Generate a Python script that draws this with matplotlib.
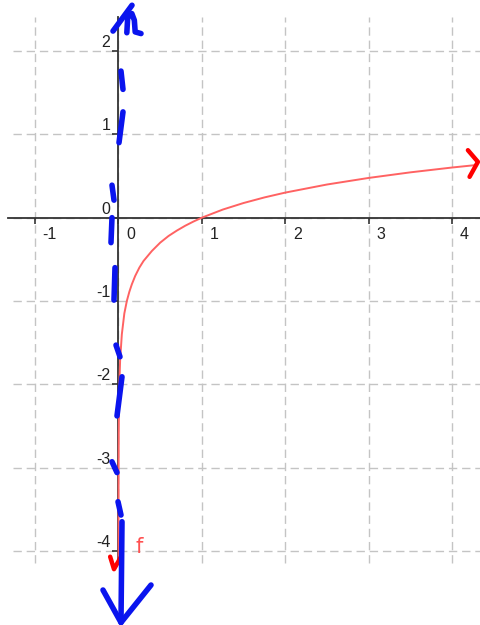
import matplotlib
matplotlib.use("Agg")
import matplotlib.pyplot as plt
from matplotlib.transforms import offset_copy

# ---- data ----
x_ticks = [-1, 0, 1, 2, 3, 4]
y_ticks = [-4, -3, -2, -1, 0, 1, 2]
x_tick_labels = ["-1", "0", "1", "2", "3", "4"]
y_tick_labels = ["-4", "-3", "-2", "-1", "0", "1", "2"]

# f(x)
curve_x = [0.00008, 0.0001, 0.0003, 0.001, 0.003, 0.01, 0.02, 0.04, 0.07, 0.1,
           0.13, 0.16, 0.2, 0.25, 0.3, 0.35, 0.4, 0.45, 0.5, 0.6, 0.7, 0.8,
           0.9, 1.0, 1.25, 1.5, 1.75, 2.0, 2.5, 3.0, 3.5, 4.0, 4.3]
curve_y = [-4.1, -4.0, -3.52, -3.0, -2.52, -2.0, -1.7, -1.4, -1.15, -1.0,
           -0.89, -0.8, -0.7, -0.6, -0.52, -0.46, -0.4, -0.35, -0.3, -0.22, -0.155, -0.097,
           -0.046, 0.0, 0.097, 0.176, 0.243, 0.301, 0.398, 0.477, 0.544, 0.602, 0.633]
curve_label = "f"
curve_label_pos = (0.2, -3.95)

# hand-drawn red arrowheads (data coords)
red_strokes = [
    ([4.19, 4.31, 4.21], [0.81, 0.67, 0.49]),
    ([-0.10, -0.054, 0.03], [-4.07, -4.22, -4.07]),
]

# hand-drawn blue asymptote annotation (data coords)
blue_strokes = [
    ([-0.066, 0.162], [2.24, 2.55]),
    ([0.10, 0.11, 0.16, 0.19, 0.20, 0.27], [2.22, 2.40, 2.45, 2.37, 2.23, 2.21]),
    ([0.03, 0.054], [1.76, 1.54]),
    ([0.054, 0.006], [1.27, 0.90]),
    ([-0.078, -0.054], [0.39, 0.21]),
    ([-0.078, -0.09], [0.0, -0.30]),
    ([-0.042, -0.054], [-0.60, -0.99]),
    ([-0.03, 0.018], [-1.53, -1.67]),
    ([0.042, -0.018], [-1.91, -2.38]),
    ([-0.078, -0.018], [-2.93, -3.06]),
    ([-0.006, 0.03], [-3.41, -3.57]),
    ([0.042, 0.03], [-3.65, -4.86]),
    ([-0.186, 0.03, 0.39], [-4.47, -4.86, -4.41]),
]

# view extents
x_min, x_max = -1.421, 4.335
y_min, y_max = -4.89, 2.613
grid_x_start = -1.265
grid_y_top, grid_y_bottom = 2.41, -4.145
axis_x_start = -1.325

fig = plt.figure(figsize=(4.8, 6.25), dpi=100)
ax = fig.add_axes([0, 0, 1, 1])
ax.set_xlim(x_min, x_max)
ax.set_ylim(y_min, y_max)
ax.set_facecolor("white")

grid_kw = dict(color="#c4c4c4", lw=1.0, linestyles=(0, (6, 3.5)), zorder=1)
ax.vlines(x_ticks, grid_y_bottom, grid_y_top, **grid_kw)
ax.hlines(y_ticks, grid_x_start, x_max, **grid_kw)

# axes through origin
for s in ["top", "right"]:
    ax.spines[s].set_visible(False)
ax.spines["left"].set_position(("data", 0))
ax.spines["bottom"].set_position(("data", 0))
ax.spines["left"].set_bounds(grid_y_bottom, grid_y_top)
ax.spines["bottom"].set_bounds(axis_x_start, x_max)
for s in ["left", "bottom"]:
    ax.spines[s].set_color("#333333")
    ax.spines[s].set_linewidth(1.3)
    ax.spines[s].set_zorder(2)
ax.set_xticks(x_ticks)
ax.set_yticks(y_ticks)
ax.tick_params(axis="both", direction="out", length=4, width=1.1, color="#222222",
               labelbottom=False, labelleft=False)

font = dict(family=["Liberation Sans", "DejaVu Sans"], fontsize=11.5, color="#222222")
xt = offset_copy(ax.transData, fig=fig, x=7.5, y=-17, units="dots")
for v, lab in zip(x_ticks, x_tick_labels):
    ax.text(v, 0, lab, transform=xt, ha="left", va="center", **font)
yt = offset_copy(ax.transData, fig=fig, x=-8, y=4, units="dots")
for v, lab in zip(y_ticks, y_tick_labels):
    ax.text(0, v, lab, transform=yt, ha="right", va="baseline", **font)

# function curve
ax.plot(curve_x, curve_y, color="#ff6262", lw=1.4, zorder=3, solid_capstyle="round")
ax.text(curve_label_pos[0], curve_label_pos[1], curve_label, color="#ff5050",
        fontsize=15, family=["DejaVu Sans"], ha="left", va="center", zorder=3)

for xs, ys in red_strokes:
    ax.plot(xs, ys, color="#ff0000", lw=3.2, solid_capstyle="round",
            solid_joinstyle="round", zorder=4)
for xs, ys in blue_strokes:
    ax.plot(xs, ys, color="#0a14ee", lw=4.0, solid_capstyle="round",
            solid_joinstyle="round", zorder=5)

fig.savefig("out.png", dpi=100)
